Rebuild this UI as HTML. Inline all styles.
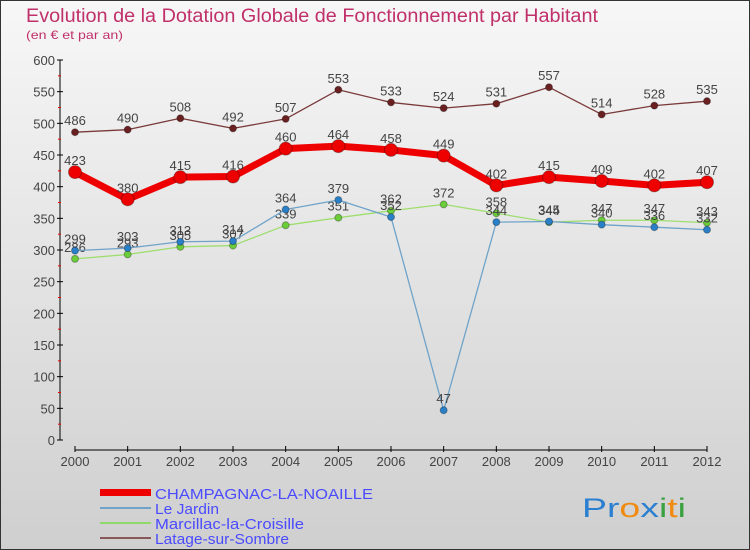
<!DOCTYPE html>
<html><head><meta charset="utf-8"><style>
body{margin:0;width:750px;height:550px;overflow:hidden;font-family:"Liberation Sans",sans-serif}
svg{display:block}
</style></head><body>
<svg id="chart" width="750" height="550">
<defs><linearGradient id="bg" x1="0" y1="0" x2="0" y2="1"><stop offset="0" stop-color="#f7f7f7"/><stop offset="1" stop-color="#cfcfcf"/></linearGradient></defs>
<rect x="0.5" y="0.5" width="749" height="549" fill="url(#bg)" stroke="#333"/>
<text x="26" y="22" font-size="19" fill="#c0306a" textLength="572" lengthAdjust="spacingAndGlyphs">Evolution de la Dotation Globale de Fonctionnement par Habitant</text>
<text x="26" y="39" font-size="12" fill="#c0306a" textLength="97" lengthAdjust="spacingAndGlyphs">(en € et par an)</text>
<g id="axes"></g><g id="series"></g>
<g font-size="15" fill="#4a4aff">
<rect x="100" y="489" width="51" height="7" fill="#e00"/>
<text x="155" y="499" textLength="218" lengthAdjust="spacingAndGlyphs">CHAMPAGNAC-LA-NOAILLE</text>
<rect x="100" y="507" width="51" height="2" fill="#6fa3c9"/>
<text x="155" y="514" textLength="64" lengthAdjust="spacingAndGlyphs">Le Jardin</text>
<rect x="100" y="522" width="51" height="2" fill="#8fd86a"/>
<text x="155" y="529" textLength="149" lengthAdjust="spacingAndGlyphs">Marcillac-la-Croisille</text>
<rect x="100" y="537" width="51" height="2" fill="#8a5858"/>
<text x="155" y="544" textLength="134" lengthAdjust="spacingAndGlyphs">Latage-sur-Sombre</text>
</g>
<text x="582" y="517" font-size="27" textLength="104" lengthAdjust="spacingAndGlyphs"><tspan fill="#2a7fd0">Pr</tspan><tspan fill="#f08a10">o</tspan><tspan fill="#2a7fd0">x</tspan><tspan fill="#3aa040">i</tspan><tspan fill="#f08a10">t</tspan><tspan fill="#3aa040">i</tspan></text>
</svg>
<script>
const years=[2000,2001,2002,2003,2004,2005,2006,2007,2008,2009,2010,2011,2012];
const yTicks=[0,50,100,150,200,250,300,350,400,450,500,550,600];
const champagnac=[423,380,415,416,460,464,458,449,402,415,409,402,407];
const leJardin=[299,303,313,314,364,379,352,47,344,345,340,336,332];
const marcillac=[286,293,305,307,339,351,362,372,358,344,347,347,343];
const latage=[486,490,508,492,507,553,533,524,531,557,514,528,535];
const NS="http://www.w3.org/2000/svg";
const X=i=>75+i*(707-75)/(years.length-1);
const Y=v=>440-v*(380/600);
function mk(p,t,a){const e=document.createElementNS(NS,t);for(const k in a)e.setAttribute(k,a[k]);p.appendChild(e);return e;}
const ax=document.getElementById('axes');
let l=mk(ax,'line',{x1:60,y1:60,x2:60,y2:440,stroke:'#000'});


yTicks.forEach((v,k)=>{
 mk(ax,'line',{x1:57,y1:Y(v),x2:63,y2:Y(v),stroke:'#000'});
 if(k<yTicks.length-1)mk(ax,'line',{x1:58,y1:Y(v+25),x2:61,y2:Y(v+25),stroke:'#e00'});
 const t=mk(ax,'text',{x:55,y:Y(v)+5,'text-anchor':'end','font-size':13,fill:'#444'});
 t.textContent=v;
 
 
});
l=mk(ax,'line',{x1:75,y1:450,x2:707,y2:450,stroke:'#000'});


years.forEach((y,i)=>{
 mk(ax,'line',{x1:X(i),y1:446,x2:X(i),y2:452,stroke:'#000'});
 const t=mk(ax,'text',{x:X(i),y:466,'text-anchor':'middle','font-size':13,fill:'#444'});
 t.textContent=y;
 
 
});
const sg=document.getElementById('series');
function series(name,data,col,w,r,dot,lab){
 const g=mk(sg,'g',{});
 
 
 const pl=mk(g,'polyline',{points:data.map((v,i)=>X(i)+','+Y(v)).join(' '),fill:'none',stroke:col,'stroke-width':w,'stroke-linejoin':'round'});
 
 
 data.forEach((v,i)=>{
  const c=mk(g,'circle',{cx:X(i),cy:Y(v),r:r,fill:dot,stroke:'rgba(0,0,0,0.3)'});
  
  
  const t=mk(g,'text',{x:X(i),y:Y(v)-7,'text-anchor':'middle','font-size':lab,fill:'#444'});
  t.textContent=v;
  
  
 });
}
series('latage',latage,'#7a3a3a',1.3,3.5,'#6a2020',13);
series('marcillac',marcillac,'#9ede6e',1.3,3.5,'#6ccd3a',13);
series('le-jardin',leJardin,'#6fa3c9',1.3,3.5,'#2a80c8',13);
series('champagnac',champagnac,'#ee0000',7,6.5,'#ee0000',13);
</script>
</body></html>
